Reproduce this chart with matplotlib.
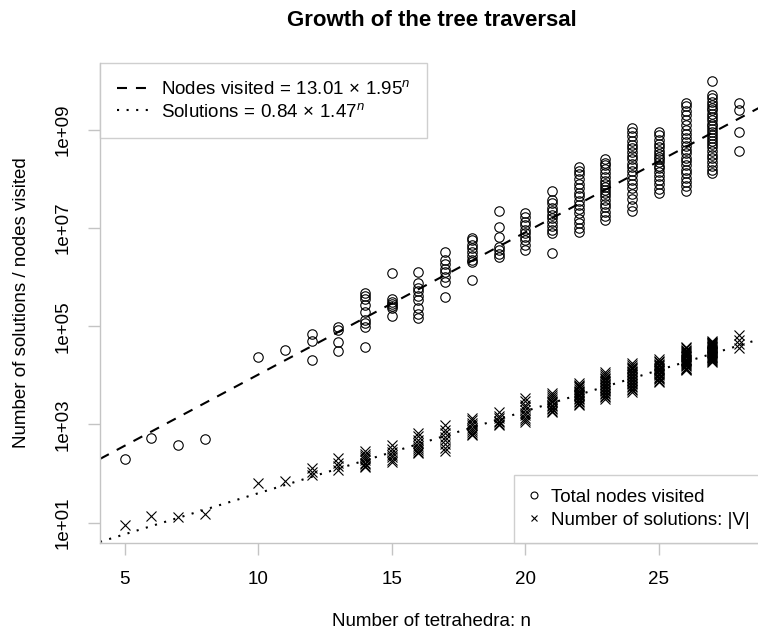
import numpy as np
import matplotlib
matplotlib.use("Agg")
import matplotlib.pyplot as plt
from matplotlib.lines import Line2D

plt.rcParams["font.family"] = ["Liberation Sans", "DejaVu Sans"]
plt.rcParams["mathtext.fontset"] = "custom"
plt.rcParams["mathtext.rm"] = "Liberation Sans"
plt.rcParams["mathtext.it"] = "Liberation Sans:italic"

# number of tetrahedra and how many instances were measured for each
n_values = [5, 6, 7, 8, 10, 11, 12, 13, 14, 15, 16, 17, 18, 19, 20, 21, 22, 23, 24, 25, 26, 27, 28]
n_counts = [1, 1, 1, 1, 1, 1, 3, 4, 9, 7, 9, 8, 9, 7, 10, 12, 16, 18, 20, 18, 22, 26, 4]

# log10 of total nodes visited, one row per n
log_nodes = [
    2.29, 2.73, 2.58, 2.71, 4.38, 4.52,
    4.84, 4.70, 4.31,
    4.98, 4.93, 4.69, 4.49,
    5.67, 5.61, 5.55, 5.44, 5.30, 5.13, 5.07, 4.99, 4.58,
    6.08, 5.55, 5.49, 5.45, 5.41, 5.37, 5.20,
    6.11, 5.88, 5.79, 5.72, 5.61, 5.54, 5.37, 5.26, 5.17,
    6.52, 6.35, 6.27, 6.17, 6.11, 6.01, 5.91, 5.60,
    6.80, 6.75, 6.66, 6.59, 6.51, 6.43, 6.36, 6.31, 5.94,
    7.34, 7.03, 6.83, 6.62, 6.56, 6.48, 6.42,
    7.30, 7.23, 7.13, 7.07, 6.97, 6.91, 6.82, 6.75, 6.65, 6.56,
    7.76, 7.57, 7.51, 7.42, 7.36, 7.27, 7.21, 7.12, 7.05, 6.97, 6.90, 6.50,
    8.25, 8.17, 8.11, 8.01, 7.90, 7.81, 7.72, 7.65, 7.56, 7.47, 7.40, 7.31, 7.19, 7.11, 7.01, 6.93,
    8.40, 8.33, 8.28, 8.21, 8.12, 8.05, 7.96, 7.91, 7.84, 7.77, 7.72, 7.65, 7.57, 7.50, 7.43, 7.33, 7.25, 7.17,
    9.04, 8.95, 8.87, 8.78, 8.70, 8.63, 8.55, 8.47, 8.40, 8.31, 8.24, 8.17, 8.08, 7.99, 7.90, 7.81, 7.70, 7.59, 7.46, 7.34,
    8.97, 8.89, 8.80, 8.72, 8.65, 8.58, 8.52, 8.45, 8.40, 8.34, 8.27, 8.22, 8.15, 8.06, 7.98, 7.90, 7.80, 7.71,
    9.56, 9.48, 9.39, 9.30, 9.21, 9.10, 9.01, 8.92, 8.84, 8.75, 8.68, 8.60, 8.53, 8.44, 8.36, 8.28, 8.19, 8.12, 8.03, 7.95, 7.86, 7.76,
    10.00, 9.71, 9.66, 9.58, 9.52, 9.45, 9.40, 9.33, 9.26, 9.20, 9.13, 9.08, 9.02, 8.95, 8.90, 8.84, 8.77, 8.72, 8.65, 8.58, 8.50, 8.43, 8.34, 8.26, 8.18, 8.12,
    9.56, 9.41, 8.97, 8.58,
]

# log10 of number of solutions |V|, same order
log_solutions = [
    0.95, 1.14, 1.11, 1.17, 1.80, 1.85,
    2.11, 2.04, 1.97,
    2.31, 2.22, 2.15, 2.08,
    2.45, 2.40, 2.36, 2.31, 2.27, 2.22, 2.19, 2.16, 2.14,
    2.58, 2.49, 2.43, 2.37, 2.33, 2.28, 2.24,
    2.82, 2.76, 2.69, 2.63, 2.57, 2.53, 2.48, 2.44, 2.41,
    2.99, 2.89, 2.83, 2.74, 2.68, 2.61, 2.52, 2.45,
    3.13, 3.09, 3.03, 2.98, 2.93, 2.89, 2.84, 2.81, 2.79,
    3.26, 3.18, 3.13, 3.08, 3.04, 3.01, 2.99,
    3.53, 3.47, 3.40, 3.35, 3.29, 3.24, 3.20, 3.14, 3.10, 3.06,
    3.65, 3.61, 3.56, 3.52, 3.48, 3.45, 3.40, 3.37, 3.34, 3.31, 3.28, 3.26,
    3.84, 3.81, 3.78, 3.76, 3.72, 3.69, 3.66, 3.63, 3.61, 3.57, 3.54, 3.51, 3.48, 3.45, 3.42, 3.40,
    4.06, 4.02, 3.99, 3.95, 3.92, 3.89, 3.86, 3.83, 3.80, 3.77, 3.74, 3.71, 3.68, 3.65, 3.62, 3.58, 3.55, 3.51,
    4.25, 4.21, 4.18, 4.15, 4.12, 4.09, 4.06, 4.03, 4.00, 3.97, 3.94, 3.91, 3.88, 3.85, 3.82, 3.79, 3.76, 3.73, 3.70, 3.67,
    4.33, 4.30, 4.27, 4.24, 4.22, 4.19, 4.16, 4.14, 4.11, 4.08, 4.05, 4.02, 4.00, 3.97, 3.94, 3.92, 3.89, 3.87,
    4.57, 4.55, 4.52, 4.50, 4.48, 4.46, 4.43, 4.41, 4.39, 4.37, 4.34, 4.32, 4.30, 4.28, 4.25, 4.23, 4.21, 4.19, 4.16, 4.14, 4.12, 4.10,
    4.70, 4.68, 4.67, 4.65, 4.63, 4.62, 4.60, 4.58, 4.57, 4.55, 4.53, 4.52, 4.50, 4.48, 4.47, 4.45, 4.43, 4.42, 4.40, 4.38, 4.37, 4.35, 4.33, 4.32, 4.30, 4.28,
    4.82, 4.72, 4.63, 4.55,
]

# fitted models shown in the legend: a * b^n
nodes_fit = (13.01, 1.95)
sols_fit = (0.84, 1.47)

y_ticks = [1e1, 1e3, 1e5, 1e7, 1e9]
y_ticklabels = ["1e+01", "1e+03", "1e+05", "1e+07", "1e+09"]
x_ticks = [5, 10, 15, 20, 25]

GREY = "#c4c4c4"
FS = 13.5

n_obs = np.repeat(n_values, n_counts)
nodes = 10 ** np.array(log_nodes)
solutions = 10 ** np.array(log_solutions)

fig = plt.figure(figsize=(7.58, 6.34), dpi=100)
W, H = 758, 634
ax = fig.add_axes([100 / W, (H - 542.7) / H, 663.6 / W, 479.4 / H])
ax.set_yscale("log")
ax.set_xlim(4.08, 28.92)
ax.set_ylim(10 ** 0.59, 10 ** 10.36)

ax.plot(n_obs, nodes, linestyle="none", marker="o", markersize=6.8,
        mfc="none", mec="black", mew=0.8, clip_on=False)
ax.plot(n_obs, solutions, linestyle="none", marker="x", markersize=7.2,
        mec="black", mew=0.8, clip_on=False)

xs = np.array(ax.get_xlim())
ax.plot(xs, nodes_fit[0] * nodes_fit[1] ** xs, color="black", lw=1.5,
        dashes=(4.8, 4.3))
ax.plot(xs, sols_fit[0] * sols_fit[1] ** xs, color="black", lw=1.5,
        dashes=(1.0, 3.6), dash_capstyle="butt")

for side in ["top", "right"]:
    ax.spines[side].set_visible(False)
for side in ["left", "bottom"]:
    ax.spines[side].set_color(GREY)
    ax.spines[side].set_linewidth(1.0)

ax.set_xticks(x_ticks)
ax.set_yticks(y_ticks)
ax.set_yticklabels(y_ticklabels, rotation=90, va="center")
ax.minorticks_off()
ax.tick_params(axis="both", direction="out", length=8.5, width=1.0,
               color=GREY, labelsize=FS, pad=12)

fig.text(431.8 / W, 1 - 20 / H, "Growth of the tree traversal", ha="center",
         va="center", fontsize=16, fontweight="bold")
fig.text(431.8 / W, 1 - 622 / H, "Number of tetrahedra: n", ha="center",
         va="center", fontsize=FS)
fig.text(22 / W, 1 - 303 / H, "Number of solutions / nodes visited",
         ha="center", va="center", rotation=90, fontsize=FS)

fit_handles = [
    Line2D([], [], color="black", lw=1.5, dashes=(4.8, 4.3)),
    Line2D([], [], color="black", lw=1.5, dashes=(1.0, 3.6), dash_capstyle="butt"),
]
fit_labels = [
    r"Nodes visited$\,=\,$13.01$\,\times\,$1.95$^{n}$",
    r"Solutions$\,=\,$0.84$\,\times\,$1.47$^{n}$",
]
leg1 = ax.legend(fit_handles, fit_labels, loc="upper left", fontsize=FS,
                 frameon=True, fancybox=False, borderaxespad=0,
                 handlelength=1.9, handletextpad=0.45, borderpad=0.9,
                 labelspacing=0.25)
leg1.get_frame().set_edgecolor(GREY)
leg1.get_frame().set_linewidth(1.0)
ax.add_artist(leg1)

pt_handles = [
    Line2D([], [], linestyle="none", marker="o", markersize=5, mfc="none",
           mec="black", mew=0.8),
    Line2D([], [], linestyle="none", marker="x", markersize=5, mec="black",
           mew=0.8),
]
pt_labels = ["Total nodes visited", "Number of solutions: |V|"]
leg2 = ax.legend(pt_handles, pt_labels, loc="lower right", fontsize=FS,
                 frameon=True, fancybox=False, borderaxespad=0,
                 handlelength=0.6, handletextpad=0.6, borderpad=0.75,
                 labelspacing=0.3)
leg2.get_frame().set_edgecolor(GREY)
leg2.get_frame().set_linewidth(1.0)

fig.savefig("out.png", dpi=100)
